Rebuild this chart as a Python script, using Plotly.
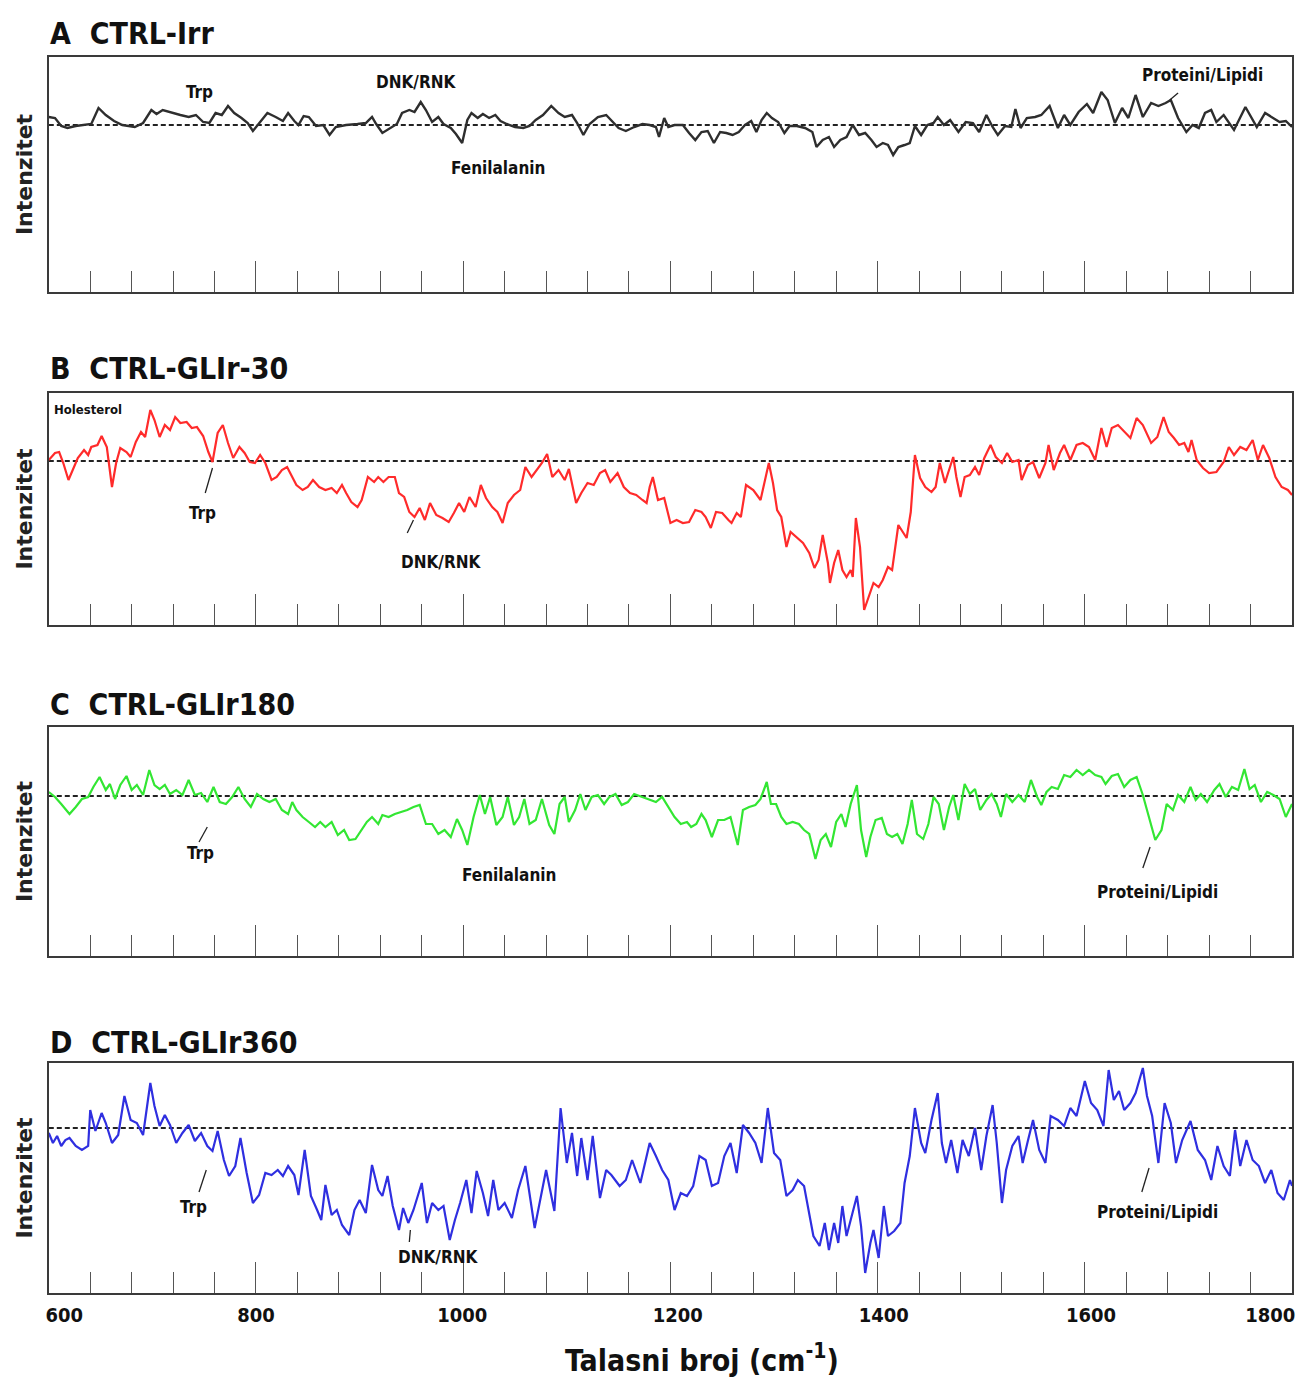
import plotly.graph_objects as go

# ---------------- data (wavenumber cm^-1, relative intensity) ----------------
wn_A = [600,606,612,618,626,636,641,648,655,663,671,683,691,699,704,710,719,727,735,742,
        749,755,761,767,773,779,786,792,797,803,811,819,826,831,837,841,846,851,858,865,
        871,877,887,898,906,912,916,922,930,936,941,948,953,959,964,970,976,981,988,993,
        999,1004,1008,1014,1019,1025,1031,1036,1042,1050,1058,1064,1070,1077,1085,1092,1098,1105,1110,1116,
        1122,1130,1138,1145,1150,1157,1165,1173,
        1180,1186,1189,1194,1198,1204,1212,1218,1224,1230,1236,1242,1248,1254,1260,1266,1272,1278,1283,1288,
        1293,1298,1304,1310,1315,1322,1330,1337,1341,1347,1353,1358,1364,1370,1376,1382,1388,1394,1399,1405,
        1410,1415,1420,1426,1431,1436,1442,1448,1454,1458,1464,1470,1478,1485,1492,1498,1505,1511,1516,1523,
        1529,1533,1538,1544,1552,1558,1566,1574,1580,1586,1594,1602,1608,1616,1622,1629,1636,1642,1649,1656,
        1664,1671,1678,1683,1690,1698,1704,1710,1716,1722,1727,1734,1744,1755,1766,1774,1782,1788,1794,1800]
int_A = [0.08,0.07,-0.01,-0.03,-0.01,0.0,0.01,0.17,0.10,0.04,0.0,-0.02,0.02,0.15,0.11,0.15,0.12,0.10,0.08,0.10,
         0.03,0.02,0.12,0.10,0.19,0.12,0.07,0.02,-0.06,0.02,0.12,0.08,0.04,0.12,0.04,0.0,0.09,0.08,-0.01,0.0,
         -0.10,-0.02,0.0,0.01,0.02,0.08,0.01,-0.08,-0.03,0.01,0.12,0.15,0.13,0.23,0.15,0.03,0.08,0.01,-0.03,-0.09,
         -0.18,0.05,0.12,0.07,0.11,0.07,0.10,0.04,0.01,-0.02,-0.03,-0.01,0.05,0.10,0.19,0.12,0.08,0.10,0.02,-0.10,
         0.01,0.08,0.10,0.02,-0.03,-0.06,-0.02,0.01,
         0.0,-0.02,-0.12,0.07,-0.02,0.0,0.0,-0.08,-0.15,-0.07,-0.06,-0.18,-0.07,-0.08,-0.10,-0.07,0.0,0.04,-0.07,0.05,
         0.12,0.07,0.03,-0.08,-0.01,-0.01,-0.03,-0.07,-0.22,-0.15,-0.12,-0.22,-0.15,-0.12,0.0,-0.10,-0.08,-0.15,-0.22,-0.18,
         -0.20,-0.30,-0.22,-0.20,-0.18,-0.01,-0.10,0.0,0.02,0.08,0.0,0.05,-0.07,0.03,0.02,-0.07,0.10,-0.02,-0.10,-0.01,
         -0.02,0.16,-0.03,0.07,0.08,0.10,0.19,-0.03,0.10,0.0,0.13,0.21,0.12,0.33,0.25,0.02,0.17,0.07,0.30,0.08,
         0.22,0.19,0.22,0.25,0.07,-0.07,0.0,-0.03,0.12,0.15,0.03,0.10,-0.05,0.18,-0.02,0.12,0.07,0.03,0.04,-0.02]

wn_B = [600,606,610,614,619,624,628,634,638,641,647,651,656,661,665,669,675,679,684,689,
        693,698,702,707,712,717,722,727,733,738,743,749,754,758,763,768,773,778,784,789,
        794,799,804,809,815,820,825,830,835,839,845,850,855,861,867,873,878,883,887,892,
        898,902,908,914,918,923,928,934,938,943,948,953,958,963,968,974,980,986,991,996,
        1001,1006,1012,1017,1022,1028,1033,1038,1043,1049,1055,1060,1066,1071,1076,1081,1086,1092,1098,1102,
        1109,1114,1120,1126,1132,1137,1142,1149,1155,1161,1167,1173,1177,
        1180,1183,1188,1194,1200,1206,1212,1218,1224,1230,1234,1239,1244,1250,1256,1259,1264,1268,1273,1280,
        1287,1291,1295,1299,1303,1307,1312,1316,1322,1328,1334,1339,1343,1347,1352,1354,1358,1362,1366,1370,
        1374,1376,1379,1383,1387,1391,1396,1401,1405,1410,1414,1420,1425,1428,1432,1436,1441,1446,1452,1456,
        1460,1465,1468,1473,1476,1480,1484,1489,1494,1498,1503,1509,1514,1520,1525,1530,1536,1539,1545,1550,
        1556,1562,1565,1570,1576,1580,1586,1592,1598,1604,1610,1616,1621,1626,1632,1638,1644,1650,1656,1664,
        1670,1676,1681,1686,1691,1696,1700,1703,1708,1714,1720,1727,1734,1739,1744,1750,1756,1762,1767,1772,
        1778,1784,1790,1796,1800]
int_B = [0.01,0.08,0.09,-0.02,-0.19,-0.06,0.03,0.11,0.06,0.14,0.16,0.25,0.14,-0.26,-0.02,0.13,0.09,0.04,0.19,0.29,
         0.24,0.51,0.41,0.24,0.36,0.31,0.44,0.38,0.39,0.33,0.34,0.25,0.09,-0.01,0.28,0.36,0.18,0.03,0.14,0.08,
         -0.01,-0.02,0.06,-0.02,-0.19,-0.16,-0.09,-0.06,-0.16,-0.24,-0.29,-0.26,-0.19,-0.26,-0.29,-0.27,-0.32,-0.24,-0.32,-0.41,
         -0.46,-0.39,-0.16,-0.21,-0.16,-0.21,-0.16,-0.16,-0.32,-0.36,-0.51,-0.56,-0.47,-0.59,-0.42,-0.54,-0.57,-0.61,-0.52,-0.42,
         -0.51,-0.36,-0.46,-0.24,-0.37,-0.46,-0.51,-0.62,-0.42,-0.34,-0.29,-0.06,-0.16,-0.09,-0.02,0.07,-0.16,-0.09,-0.19,-0.08,
         -0.42,-0.32,-0.22,-0.24,-0.12,-0.09,-0.21,-0.12,-0.26,-0.32,-0.34,-0.39,-0.42,
         -0.26,-0.16,-0.39,-0.37,-0.62,-0.59,-0.62,-0.61,-0.49,-0.51,-0.56,-0.67,-0.51,-0.52,-0.59,-0.62,-0.52,-0.56,-0.24,-0.29,
         -0.39,-0.19,-0.02,-0.22,-0.49,-0.56,-0.86,-0.71,-0.77,-0.82,-0.92,-1.07,-0.99,-0.74,-1.02,-1.22,-1.02,-0.89,-1.09,-1.16,
         -1.09,-1.16,-0.57,-0.86,-1.49,-1.36,-1.22,-1.26,-1.19,-1.06,-1.09,-0.64,-0.72,-0.77,-0.51,0.06,-0.17,-0.26,-0.31,-0.26,
         -0.02,-0.22,-0.12,0.04,-0.16,-0.36,-0.16,-0.14,-0.06,-0.14,0.03,0.16,0.04,-0.02,0.08,-0.01,0.01,-0.19,-0.04,-0.01,
         -0.17,-0.02,0.16,-0.09,0.08,0.16,0.01,0.16,0.18,0.14,0.01,0.33,0.14,0.33,0.36,0.29,0.23,0.43,0.36,0.18,
         0.24,0.44,0.29,0.23,0.16,0.18,0.09,0.21,0.01,-0.07,-0.12,-0.11,-0.01,0.14,0.06,0.14,0.11,0.21,0.01,0.16,
         0.03,-0.16,-0.26,-0.29,-0.34]

wn_C = [600,606,612,620,626,632,638,643,649,655,659,664,669,675,680,685,691,697,702,707,
        712,717,723,729,735,741,747,753,759,765,771,777,783,789,795,801,807,813,819,825,
        831,835,839,845,851,857,862,867,873,879,885,890,896,902,907,912,918,922,928,934,
        940,946,952,958,964,970,976,982,988,994,999,1004,1010,1016,1021,1026,1032,1038,1043,1049,
        1054,1059,1064,1070,1076,1083,1088,1093,1098,1102,1108,1113,1118,1124,1130,1136,1141,1147,1153,1159,
        1165,1173,
        1180,1186,1192,1198,1204,1210,1216,1220,1225,1230,1234,1240,1246,1252,1258,1265,1270,1276,1282,1287,
        1293,1297,1302,1307,1312,1318,1324,1329,1334,1340,1345,1350,1355,1360,1365,1369,1374,1380,1384,1389,
        1393,1398,1404,1409,1414,1419,1424,1429,1433,1438,1444,1449,1454,1459,1464,1469,1473,1478,1484,1489,
        1494,1499,1505,1510,1515,1519,1524,1530,1536,1542,1548,1554,1558,1563,1568,1574,1580,1586,1592,1598,
        1604,1610,1616,1620,1626,1632,1638,1644,1650,1656,1662,1668,1674,1679,1685,1690,1696,1702,1707,1712,
        1718,1725,1730,1736,1742,1748,1754,1759,1764,1770,1776,1782,1788,1794,1800]
int_C = [0.04,-0.01,-0.08,-0.18,-0.11,-0.03,-0.01,0.09,0.19,0.06,0.12,-0.03,0.11,0.20,0.06,0.11,0.01,0.26,0.11,0.07,
         0.11,0.02,0.06,0.01,0.16,0.01,0.03,-0.06,0.09,-0.06,-0.08,-0.01,0.09,-0.03,-0.11,0.02,-0.03,-0.06,-0.03,-0.14,
         -0.18,-0.06,-0.14,-0.21,-0.26,-0.31,-0.26,-0.31,-0.26,-0.39,-0.34,-0.44,-0.43,-0.33,-0.26,-0.21,-0.28,-0.19,-0.21,-0.18,
         -0.16,-0.14,-0.11,-0.09,-0.28,-0.28,-0.38,-0.34,-0.41,-0.23,-0.34,-0.49,-0.21,0.01,-0.18,-0.01,-0.29,-0.21,-0.01,-0.29,
         -0.21,-0.03,-0.28,-0.24,-0.03,-0.29,-0.38,-0.08,-0.01,-0.26,-0.14,0.02,-0.14,-0.01,0.01,-0.08,-0.01,0.02,-0.09,-0.06,
         0.02,-0.01,
         -0.03,-0.06,-0.01,-0.11,-0.21,-0.28,-0.26,-0.31,-0.28,-0.18,-0.24,-0.41,-0.24,-0.24,-0.21,-0.49,-0.14,-0.11,-0.09,-0.03,
         0.14,-0.08,-0.08,-0.21,-0.28,-0.26,-0.28,-0.34,-0.38,-0.63,-0.44,-0.38,-0.51,-0.26,-0.18,-0.31,-0.08,0.11,-0.34,-0.61,
         -0.41,-0.24,-0.22,-0.38,-0.41,-0.38,-0.48,-0.28,-0.04,-0.38,-0.43,-0.28,-0.01,-0.08,-0.34,-0.11,0.01,-0.24,0.12,0.02,
         0.07,-0.14,-0.04,0.02,-0.08,-0.21,0.02,-0.06,0.01,-0.06,0.16,-0.01,-0.09,0.04,0.09,0.07,0.21,0.19,0.26,0.21,
         0.26,0.21,0.19,0.12,0.20,0.22,0.09,0.16,0.19,0.01,-0.21,-0.44,-0.34,-0.08,-0.14,0.01,-0.06,0.09,-0.04,0.02,
         -0.06,0.06,0.12,-0.01,0.09,0.06,0.27,0.07,0.11,-0.06,0.04,0.01,-0.03,-0.21,-0.08]

wn_D = [600,604,608,612,616,620,626,632,638,640,645,651,655,661,667,673,679,685,691,698,
        702,707,712,717,723,729,735,741,747,753,758,763,769,774,780,785,791,797,803,809,
        815,821,826,831,837,841,847,853,859,863,867,873,878,883,890,895,900,906,912,918,
        922,927,932,938,942,947,952,960,965,970,976,981,987,992,997,1003,1008,1013,1019,1024,
        1029,1034,1040,1047,1053,1060,1069,1075,1080,1088,1094,1100,1105,1110,1114,1120,1125,1132,1138,1143,
        1151,1157,1163,1171,
        1180,1186,1192,1198,1204,1210,1216,1222,1228,1234,1240,1246,1252,1258,1264,1270,1276,1282,1288,1294,
        1300,1306,1312,1318,1323,1329,1334,1338,1344,1349,1353,1358,1362,1366,1370,1375,1380,1384,1388,1393,
        1396,1401,1406,1410,1416,1422,1426,1431,1436,1442,1446,1452,1458,1462,1466,1471,1477,1482,1488,1494,
        1500,1505,1511,1515,1520,1524,1530,1536,1540,1545,1550,1556,1562,1567,1574,1580,1586,1592,1600,1606,
        1612,1618,1623,1628,1633,1638,1644,1649,1656,1660,1665,1671,1677,1683,1688,1694,1702,1709,1716,1722,
        1728,1734,1740,1745,1750,1756,1762,1768,1774,1780,1786,1792,1798,1800]
int_D = [-0.05,-0.15,-0.08,-0.18,-0.12,-0.10,-0.18,-0.22,-0.18,0.18,-0.03,0.15,0.05,-0.15,-0.07,0.32,0.08,0.05,-0.07,0.45,
         0.22,0.02,0.13,0.03,-0.15,-0.05,0.03,-0.13,-0.05,-0.18,-0.23,-0.03,-0.32,-0.48,-0.38,-0.10,-0.45,-0.75,-0.67,-0.45,
         -0.47,-0.42,-0.48,-0.38,-0.47,-0.67,-0.22,-0.68,-0.82,-0.92,-0.57,-0.87,-0.82,-0.97,-1.07,-0.82,-0.72,-0.85,-0.37,-0.62,
         -0.68,-0.48,-0.78,-1.02,-0.80,-0.95,-0.82,-0.55,-0.95,-0.75,-0.82,-0.78,-1.12,-0.92,-0.75,-0.52,-0.85,-0.43,-0.65,-0.88,
         -0.52,-0.82,-0.75,-0.90,-0.62,-0.38,-1.00,-0.68,-0.42,-0.83,0.20,-0.35,-0.05,-0.48,-0.10,-0.52,-0.08,-0.70,-0.42,-0.47,
         -0.58,-0.52,-0.32,-0.55,
         -0.15,-0.28,-0.42,-0.52,-0.82,-0.65,-0.68,-0.58,-0.28,-0.32,-0.58,-0.55,-0.28,-0.15,-0.45,0.03,-0.05,-0.15,-0.35,0.20,
         -0.25,-0.32,-0.68,-0.62,-0.52,-0.58,-0.85,-1.08,-1.18,-0.95,-1.22,-0.95,-1.15,-0.78,-1.08,-0.88,-0.68,-0.98,-1.45,-1.15,
         -1.02,-1.30,-0.78,-1.08,-1.03,-0.95,-0.55,-0.28,0.20,-0.15,-0.25,0.08,0.35,-0.15,-0.35,-0.12,-0.45,-0.12,-0.28,0.00,
         -0.42,-0.08,0.23,-0.15,-0.75,-0.42,-0.18,-0.08,-0.35,-0.13,0.08,-0.22,-0.35,0.12,0.08,0.02,0.20,0.12,0.47,0.25,
         0.18,0.02,0.58,0.28,0.37,0.18,0.25,0.35,0.60,0.32,0.12,-0.35,0.25,0.05,-0.35,-0.12,0.07,-0.22,-0.32,-0.52,
         -0.18,-0.38,-0.48,-0.02,-0.38,-0.12,-0.32,-0.38,-0.55,-0.42,-0.65,-0.72,-0.52,-0.58]

panel_titles = ["A  CTRL-Irr", "B  CTRL-GLIr-30", "C  CTRL-GLIr180", "D  CTRL-GLIr360"]
line_colors = ["#2e2e2e", "#ff2b2b", "#33e633", "#2f2fe0"]
x_tick_vals = [600, 800, 1000, 1200, 1400, 1600, 1800]
x_tick_text = ["600", "800", "1000", "1200", "1400", "1600", "1800"]
x_label_pos = [615, 800, 999, 1207, 1406, 1606, 1779]

# peak labels: (panel, text, x, y)
peak_labels = [
    (1, "Trp", 745, 0.33), (1, "DNK/RNK", 955, 0.43), (1, "Fenilalanin", 1034, -0.43),
    (1, "Proteini/Lipidi", 1714, 0.50),
    (2, "Trp", 748, -0.52), (2, "DNK/RNK", 979, -1.01),
    (3, "Trp", 746, -0.57), (3, "Fenilalanin", 1044, -0.79), (3, "Proteini/Lipidi", 1670, -0.96),
    (4, "Trp", 740, -0.79), (4, "DNK/RNK", 976, -1.29), (4, "Proteini/Lipidi", 1670, -0.84),
]
# leader lines: (panel, x0, y0, x1, y1)
leaders = [
    (1, 1682, 0.25, 1690, 0.32),
    (2, 751, -0.32, 758, -0.07), (2, 946, -0.72, 952, -0.59),
    (3, 745, -0.46, 753, -0.31), (3, 1656, -0.72, 1663, -0.51),
    (4, 745, -0.64, 752, -0.42), (4, 948, -1.14, 949, -1.02), (4, 1655, -0.64, 1662, -0.40),
]

series = [(wn_A, int_A), (wn_B, int_B), (wn_C, int_C), (wn_D, int_D)]
y_ranges = [[-1.67, 0.68], [-1.64, 0.68], [-1.60, 0.69], [-1.65, 0.65]]
H = 1378
W = 1302
boxes = [(57, 292), (393, 625), (727, 956), (1063, 1293)]
title_y = [34, 368, 705, 1042]

NARROW = "Liberation Sans Narrow, DejaVu Sans Condensed, Arial Narrow, sans-serif"
COND = "DejaVu Sans Condensed, Liberation Sans Narrow, sans-serif"

fig = go.Figure()
layout = dict(
    width=W, height=H, margin=dict(l=0, r=0, t=0, b=0),
    paper_bgcolor="white", plot_bgcolor="white", showlegend=False,
)
annotations = []
shapes = []
for i, (wn, it) in enumerate(series, start=1):
    xa = "x" if i == 1 else f"x{i}"
    ya = "y" if i == 1 else f"y{i}"
    fig.add_trace(go.Scatter(x=[600, 1800], y=[0, 0], mode="lines", xaxis=xa, yaxis=ya,
                             line=dict(color="#222222", width=2, dash="5px,3px"), hoverinfo="skip"))
    fig.add_trace(go.Scatter(x=wn, y=it, mode="lines", xaxis=xa, yaxis=ya,
                             line=dict(color=line_colors[i - 1], width=2.4 if i == 1 else 2.2)))
    top, bot = boxes[i - 1]
    layout[f"xaxis{'' if i == 1 else i}"] = dict(
        domain=[46 / W, 1295 / W], anchor=ya, range=[600, 1800],
        showgrid=False, zeroline=False, showline=True, mirror=True,
        linecolor="#3a3a3a", linewidth=2.2,
        ticks="inside", tickvals=x_tick_vals, ticklen=31, tickwidth=1.4, tickcolor="#555555",
        minor=dict(ticks="inside", ticklen=21, tickwidth=1.4, tickcolor="#555555", dtick=40, tick0=600),
        showticklabels=False,
    )
    layout[f"yaxis{'' if i == 1 else i}"] = dict(
        domain=[1 - bot / H, 1 - top / H], anchor=xa, range=y_ranges[i - 1],
        showgrid=False, zeroline=False, showline=True, mirror=True,
        linecolor="#3a3a3a", linewidth=2.2, ticks="", showticklabels=False,
        title=dict(text="Intenzitet", standoff=8,
                   font=dict(family="DejaVu Sans, sans-serif", size=22, color="#222222", weight="bold")),
    )
    annotations.append(dict(
        text=panel_titles[i - 1], xref="paper", yref="paper", x=45 / W, y=1 - title_y[i - 1] / H,
        xanchor="left", yanchor="middle", showarrow=False,
        font=dict(family=NARROW, size=30, color="#111111", weight="bold"),
    ))

for (p, txt, x, y) in peak_labels:
    xa = "x" if p == 1 else f"x{p}"
    ya = "y" if p == 1 else f"y{p}"
    annotations.append(dict(text=txt, xref=xa, yref=ya, x=x, y=y, showarrow=False,
                            xanchor="center", yanchor="middle",
                            font=dict(family=COND, size=17, color="#111111", weight="bold")))
annotations.append(dict(text="Holesterol", xref="x2", yref="y2", x=603, y=0.52, showarrow=False,
                        xanchor="left", yanchor="middle",
                        font=dict(family=COND, size=13, color="#111111", weight="bold")))
for (p, x0, y0, x1, y1) in leaders:
    xa = "x" if p == 1 else f"x{p}"
    ya = "y" if p == 1 else f"y{p}"
    shapes.append(dict(type="line", xref=xa, yref=ya, x0=x0, y0=y0, x1=x1, y1=y1,
                       line=dict(color="#222222", width=1.3)))

# x-axis title
annotations.append(dict(text="Talasni broj (cm<sup>-1</sup>)", xref="paper", yref="paper",
                        x=702 / W, y=1 - 1358 / H, xanchor="center", yanchor="middle", showarrow=False,
                        font=dict(family=NARROW, size=30, color="#111111", weight="bold")))

# overlay axis carrying the tick labels of the bottom panel
layout["xaxis5"] = dict(
    domain=[46 / W, 1295 / W], anchor="y4", overlaying="x4", range=[600, 1800], side="bottom",
    showgrid=False, zeroline=False, showline=False, ticks="",
    tickvals=x_label_pos, ticktext=x_tick_text, ticklabelstandoff=8,
    ticklabeloverflow="allow",
    tickfont=dict(family=NARROW, size=20, color="#111111", weight="bold"),
)
fig.add_trace(go.Scatter(x=[None], y=[None], xaxis="x5", yaxis="y4", mode="lines", hoverinfo="skip"))

layout["annotations"] = annotations
layout["shapes"] = shapes
fig.update_layout(**layout)
fig.write_html("out.html")
